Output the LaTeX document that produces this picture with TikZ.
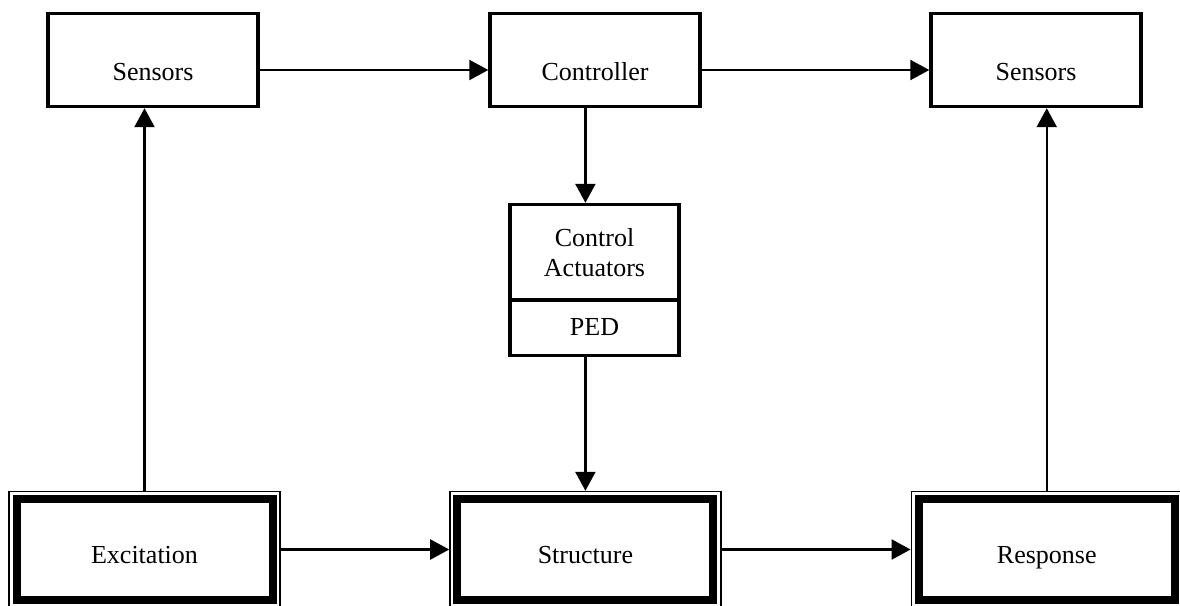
\documentclass[tikz,border=0pt]{standalone}
\usepackage{fontspec}
\setmainfont{Liberation Serif}
\usetikzlibrary{arrows.meta,fit}
\begin{document}
\begin{tikzpicture}[x=1pt,y=-1pt,
 every node/.style={font=\fontsize{26}{30}\selectfont},
 box/.style={draw, line width=3.4pt, inner sep=0pt, minimum width=210pt, minimum height=93pt, text height=41pt, text depth=0pt},
 actbox/.style={draw, line width=3.4pt, inner sep=0pt, minimum width=169pt},
 core/.style={draw, line width=8pt, inner sep=0pt, minimum width=256pt, minimum height=101pt, text height=27pt, text depth=0pt},
 shell/.style={draw, line width=1.4pt, inner sep=3.5pt},
 conn/.style={line width=2.2pt, -{Triangle[length=19pt,width=20pt]}}
]
\useasboundingbox (0,0) rectangle (1180,605);
\node[box] (s1) at (153,60) {Sensors};
\node[box] (ctrl) at (595,60) {Controller};
\node[box] (s2) at (1036,60) {Sensors};
\node[actbox, minimum height=95.5pt, align=center] (act) at (594.5,252.25) {Control\\Actuators};
\node[actbox, minimum height=55.5pt, text height=14.5pt, text depth=0pt] (ped) at (594.5,327.75) {PED};
\node[core] (excI) at (144.5,549.5) {Excitation};
\node[shell, fit=(excI)] (exc) {};
\node[core] (strI) at (585.4,549.5) {Structure};
\node[shell, fit=(strI)] (str) {};
\node[core] (resI) at (1046.75,549.5) {Response};
\node[shell, fit=(resI)] (res) {};
\draw[conn] ([yshift=-10pt]s1.east) -- ([yshift=-10pt]ctrl.west);
\draw[conn] ([yshift=-10pt]ctrl.east) -- ([yshift=-10pt]s2.west);
\draw[conn] (exc.north) -- (exc.north |- s1.south);
\draw[conn] (res.north) -- (res.north |- s2.south);
\draw[conn] (ctrl.south -| str.north) -- (act.north -| str.north);
\draw[conn] (ped.south -| str.north) -- (str.north);
\draw[conn] (exc.east) -- (str.west);
\draw[conn] (str.east) -- (res.west);
\end{tikzpicture}
\end{document}
